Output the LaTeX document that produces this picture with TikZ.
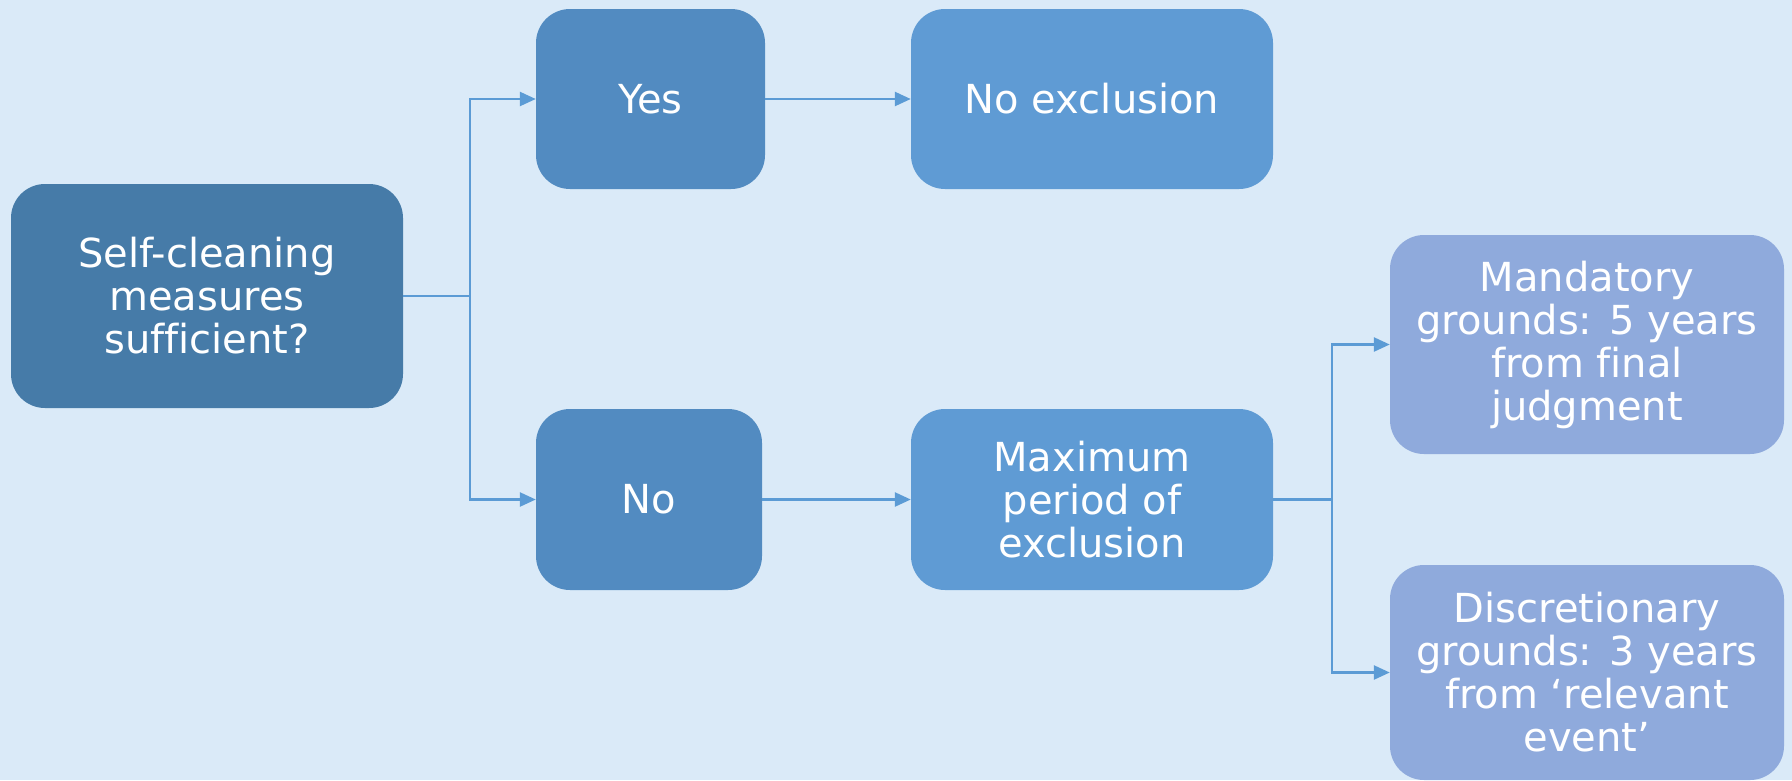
\documentclass[tikz,border=0pt]{standalone}
\usepackage{fontspec}
\setmainfont[Ligatures=NoCommon]{DejaVu Sans}
\usetikzlibrary{arrows.meta}
\definecolor{bg}{HTML}{DAEAF8}
\definecolor{cA}{HTML}{467BA8}
\definecolor{cB}{HTML}{528BC1}
\definecolor{cC}{HTML}{5F9BD4}
\definecolor{cD}{HTML}{8FAADC}
\definecolor{ln}{HTML}{5B9BD5}
\begin{document}
\begin{tikzpicture}[x=1pt,y=-1pt,
  box/.style={draw=none,rounded corners=34pt,inner sep=0pt,align=center,text=white,
    font=\fontsize{40}{43}\selectfont},
  conn/.style={draw=ln,line width=2.5pt,-{Triangle[length=16pt,width=14pt]}},
  plain/.style={draw=ln,line width=2.5pt}]
\fill[bg] (0,0) rectangle (1792,780);
\useasboundingbox (0,0) rectangle (1792,780);
\node[box,fill=cA,minimum width=392pt,minimum height=224pt] (root) at (207,296) {Self-cleaning\\measures\\sufficient?};
\node[box,fill=cB,minimum width=229pt,minimum height=180pt] (yes) at (650.5,99) {Yes};
\node[box,fill=cC,minimum width=362pt,minimum height=180pt] (noex) at (1092,99) {No exclusion};
\node[box,fill=cB,minimum width=226pt,minimum height=181pt] (no) at (649,499.5) {No};
\node[box,fill=cC,minimum width=362pt,minimum height=181pt] (max) at (1092,499.5) {Maximum\\period of\\exclusion};
\node[box,fill=cD,minimum width=394pt,minimum height=219pt] (mand) at (1587,344.5) {Mandatory\\grounds: 5 years\\from final\\judgment};
\node[box,fill=cD,minimum width=394pt,minimum height=215pt] (disc) at (1587,672.5) {Discretionary\\grounds: 3 years\\from ‘relevant\\event’};
\coordinate (j1) at (470,296);
\coordinate (j2) at (1332,499.5);
\draw[plain] (root.east) -- (j1);
\draw[conn] (j1) |- (yes.west);
\draw[conn] (j1) |- (no.west);
\draw[conn] (yes.east) -- (noex.west);
\draw[conn] (no.east) -- (max.west);
\draw[plain] (max.east) -- (j2);
\draw[conn] (j2) |- (mand.west);
\draw[conn] (j2) |- (disc.west);
\end{tikzpicture}
\end{document}
